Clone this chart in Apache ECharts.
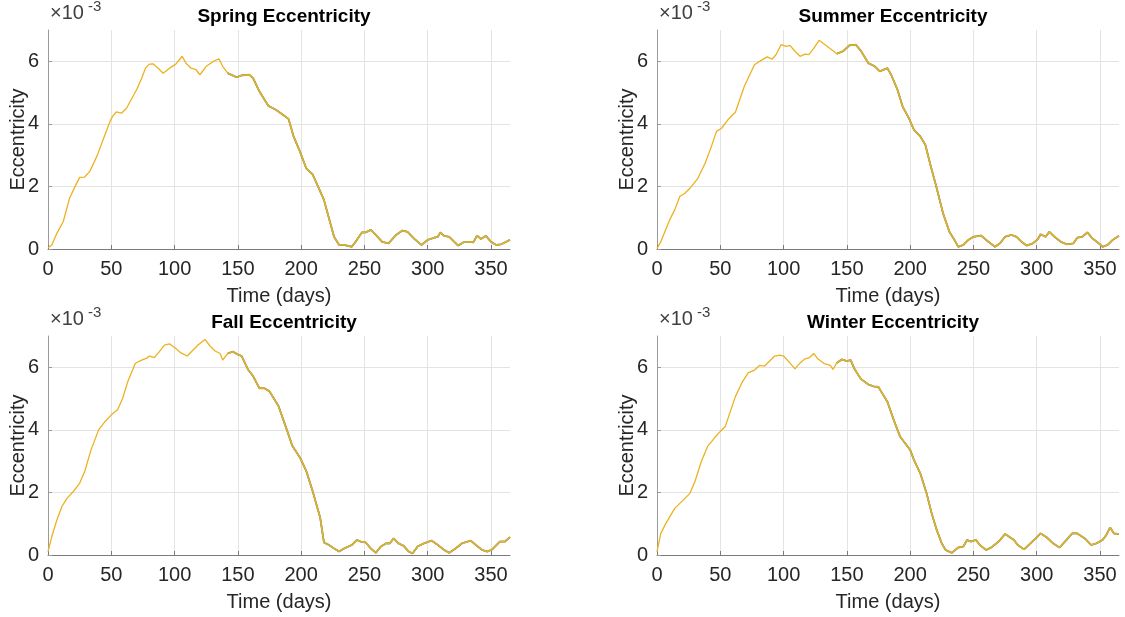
<!DOCTYPE html>
<html><head><meta charset="utf-8">
<script src="https://cdn.jsdelivr.net/npm/echarts@6/dist/echarts.min.js"></script>
<style>html,body{margin:0;padding:0;background:#fff}#c{width:1125px;height:617px}</style>
</head><body><div id="c"></div>
<script>
// values in units of 1e-3, [day, eccentricity]
const springData = [[0,0.04],[3,0.13],[7,0.5],[12,0.87],[17,1.62],[22,2.05],[25,2.29],[29,2.3],[33,2.48],[39,3.0],[45,3.65],[49,4.08],[51,4.24],[54,4.38],[58,4.34],[62,4.5],[70,5.09],[74,5.46],[77,5.78],[80,5.91],[83,5.92],[87,5.78],[91,5.62],[96,5.78],[101,5.91],[106,6.16],[109,5.94],[113,5.78],[117,5.73],[120,5.57],[125,5.84],[130,5.98],[135,6.08],[138,5.84],[142,5.62],[149,5.49],[153,5.55],[159,5.57],[162,5.46],[167,5.04],[174,4.58],[180,4.45],[185,4.31],[190,4.16],[194,3.6],[199,3.12],[204,2.58],[209,2.39],[214,1.94],[218,1.57],[222,0.98],[226,0.39],[230,0.13],[234,0.13],[240,0.07],[243,0.23],[248,0.53],[251,0.53],[255,0.61],[259,0.45],[264,0.23],[269,0.18],[275,0.45],[280,0.59],[284,0.55],[289,0.34],[295,0.13],[300,0.29],[305,0.36],[308,0.39],[310,0.53],[313,0.42],[317,0.39],[324,0.11],[329,0.23],[334,0.23],[336,0.21],[339,0.43],[342,0.32],[346,0.42],[350,0.23],[354,0.13],[358,0.15],[365,0.29]];
const summerData = [[0,0.02],[3,0.23],[10,0.93],[14,1.25],[18,1.68],[22,1.78],[26,1.94],[32,2.24],[38,2.74],[43,3.28],[47,3.76],[51,3.86],[56,4.13],[62,4.38],[69,5.2],[77,5.89],[82,6.02],[87,6.14],[91,6.07],[94,6.21],[98,6.53],[102,6.48],[105,6.51],[109,6.32],[113,6.16],[117,6.23],[120,6.21],[124,6.42],[128,6.67],[132,6.55],[138,6.37],[142,6.24],[147,6.32],[152,6.51],[157,6.53],[161,6.34],[167,5.94],[172,5.84],[176,5.68],[182,5.78],[185,5.57],[190,5.09],[194,4.56],[199,4.18],[203,3.81],[208,3.6],[212,3.33],[216,2.69],[221,1.94],[226,1.14],[231,0.55],[235,0.29],[238,0.07],[242,0.13],[246,0.29],[250,0.39],[256,0.43],[260,0.29],[267,0.07],[271,0.18],[275,0.39],[280,0.45],[284,0.39],[288,0.23],[292,0.11],[297,0.18],[301,0.32],[303,0.47],[307,0.39],[310,0.55],[314,0.39],[319,0.23],[324,0.15],[329,0.18],[332,0.36],[336,0.39],[340,0.53],[344,0.34],[350,0.15],[352,0.07],[356,0.13],[360,0.29],[365,0.42]];
const fallData = [[0,0.11],[3,0.59],[7,1.12],[11,1.55],[15,1.81],[20,2.03],[25,2.29],[29,2.67],[34,3.36],[40,4.0],[45,4.26],[50,4.48],[55,4.64],[59,5.01],[63,5.54],[69,6.13],[74,6.23],[78,6.29],[80,6.36],[84,6.31],[88,6.5],[92,6.71],[96,6.75],[101,6.6],[105,6.46],[110,6.36],[115,6.57],[119,6.73],[124,6.89],[128,6.68],[132,6.52],[136,6.44],[138,6.23],[142,6.44],[146,6.5],[150,6.41],[153,6.36],[158,5.93],[162,5.72],[167,5.33],[171,5.33],[175,5.23],[182,4.77],[188,4.08],[193,3.49],[199,3.12],[204,2.69],[209,2.05],[215,1.2],[218,0.4],[222,0.32],[226,0.21],[230,0.11],[234,0.21],[240,0.32],[244,0.48],[247,0.43],[251,0.4],[255,0.21],[259,0.07],[263,0.27],[267,0.37],[270,0.37],[273,0.53],[277,0.37],[281,0.29],[285,0.11],[288,0.05],[292,0.27],[297,0.37],[303,0.46],[308,0.32],[313,0.16],[317,0.07],[322,0.21],[327,0.37],[334,0.46],[338,0.32],[343,0.16],[347,0.11],[351,0.18],[357,0.43],[361,0.43],[365,0.57]];
const winterData = [[0,0.11],[3,0.69],[7,1.01],[14,1.49],[18,1.65],[22,1.81],[26,1.97],[30,2.35],[35,2.99],[40,3.47],[46,3.77],[50,3.95],[54,4.11],[57,4.48],[62,5.07],[67,5.5],[72,5.82],[77,5.91],[81,6.06],[85,6.04],[89,6.2],[93,6.36],[97,6.39],[100,6.36],[105,6.14],[109,5.95],[113,6.14],[117,6.27],[120,6.3],[124,6.44],[127,6.27],[132,6.12],[137,6.06],[139,5.93],[142,6.14],[146,6.25],[150,6.2],[153,6.23],[156,5.95],[161,5.63],[167,5.45],[171,5.39],[175,5.37],[177,5.23],[182,4.9],[187,4.32],[192,3.79],[196,3.57],[200,3.36],[203,3.04],[208,2.61],[213,1.97],[217,1.33],[221,0.8],[225,0.37],[228,0.16],[233,0.07],[238,0.24],[242,0.27],[245,0.48],[248,0.43],[252,0.48],[255,0.32],[260,0.16],[264,0.24],[270,0.43],[275,0.67],[278,0.59],[282,0.48],[285,0.32],[290,0.18],[295,0.37],[300,0.56],[303,0.69],[308,0.56],[313,0.37],[318,0.24],[323,0.46],[328,0.69],[332,0.69],[338,0.53],[343,0.32],[347,0.37],[352,0.48],[355,0.64],[358,0.88],[361,0.69],[365,0.67]];

const panelTitles = ['Spring Eccentricity','Summer Eccentricity','Fall Eccentricity','Winter Eccentricity'];
const panelData = [springData, summerData, fallData, winterData];
const xTicks = [0,50,100,150,200,250,300,350];
const yTicks = [0,2,4,6];
const xName = 'Time (days)';
const yName = 'Eccentricity';
const exponentBase = '×10';
const exponentPower = '-3';

const gridPos = [
  {left:48, top:30},
  {left:657, top:30},
  {left:48, top:336},
  {left:657, top:336}
];
const W = 462, H = 219;
const FONT = '"Liberation Sans", Arial, Helvetica, sans-serif';
const txt = '#262626';
const gridCol = '#e3e3e3';
const axCol = '#7a7a7a';
const underColors = ['#D95319','#4DBEEE','#77AC30'];
const underWidths = [1.8,1.6,1.45];

const option = {
  animation:false,
  backgroundColor:'#fff',
  title:[], grid:[], xAxis:[], yAxis:[], series:[], graphic:[]
};

panelData.forEach((d,i)=>{
  const g = gridPos[i];
  option.grid.push({left:g.left, top:g.top, width:W, height:H, containLabel:false});
  option.title.push({
    text: panelTitles[i], left: g.left + W/2, top: g.top - 28, textAlign:'center',
    textStyle:{fontFamily:FONT, fontWeight:'bold', fontSize:19, color:'#000'}
  });
  option.xAxis.push({
    type:'value', gridIndex:i, min:0, max:365, interval:50,
    name:xName, nameLocation:'middle', nameGap:37,
    nameTextStyle:{fontFamily:FONT, fontSize:20, color:txt},
    axisLine:{show:true, onZero:false, lineStyle:{color:axCol, width:1}},
    axisTick:{show:true, inside:true, length:4, lineStyle:{color:axCol}},
    axisLabel:{fontFamily:FONT, fontSize:20, color:txt, margin:10, showMaxLabel:false,
      formatter:v=> xTicks.indexOf(v)>=0 ? String(v) : ''},
    splitLine:{show:true, lineStyle:{color:[gridCol,gridCol,gridCol,gridCol,gridCol,gridCol,gridCol,gridCol,'rgba(0,0,0,0)'], width:1}}
  });
  option.yAxis.push({
    type:'value', gridIndex:i, min:0, max:7, interval:2,
    name:yName, nameLocation:'middle', nameGap:20, nameMoveOverlap:false,
    nameTextStyle:{fontFamily:FONT, fontSize:20, color:txt},
    axisLine:{show:true, onZero:false, lineStyle:{color:'#9a9a9a', width:1}},
    axisTick:{show:true, inside:true, length:4, lineStyle:{color:'#9a9a9a'}},
    axisLabel:{fontFamily:FONT, fontSize:20, color:txt, margin:9, showMaxLabel:false,
      formatter:v=> yTicks.indexOf(v)>=0 ? String(v) : ''},
    splitLine:{show:true, lineStyle:{color:['rgba(0,0,0,0)',gridCol,gridCol,gridCol,'rgba(0,0,0,0)'], width:1}}
  });
  const tail = d.filter(p=>p[0]>=140);
  underColors.forEach((c,k)=>{
    option.series.push({
      type:'line', xAxisIndex:i, yAxisIndex:i, data:tail, showSymbol:false, symbol:'none',
      lineStyle:{color:c, width:underWidths[k], opacity:0.8}, z:2+k, silent:true
    });
  });
  option.series.push({
    type:'line', xAxisIndex:i, yAxisIndex:i, data:d, showSymbol:false, symbol:'none',
    lineStyle:{color:'#EDB120', width:1.3}, z:10, silent:true
  });
  option.graphic.push({
    type:'text', left:g.left + 2, top:g.top - 27,
    style:{text:exponentBase, font:'20px ' + FONT, fill:'#404040'}
  });
  option.graphic.push({
    type:'text', left:g.left + 40, top:g.top - 31,
    style:{text:exponentPower, font:'15px ' + FONT, fill:'#404040'}
  });
});

const chart = echarts.init(document.getElementById('c'), null, {renderer:'canvas'});
chart.setOption(option);
</script>
</body></html>
